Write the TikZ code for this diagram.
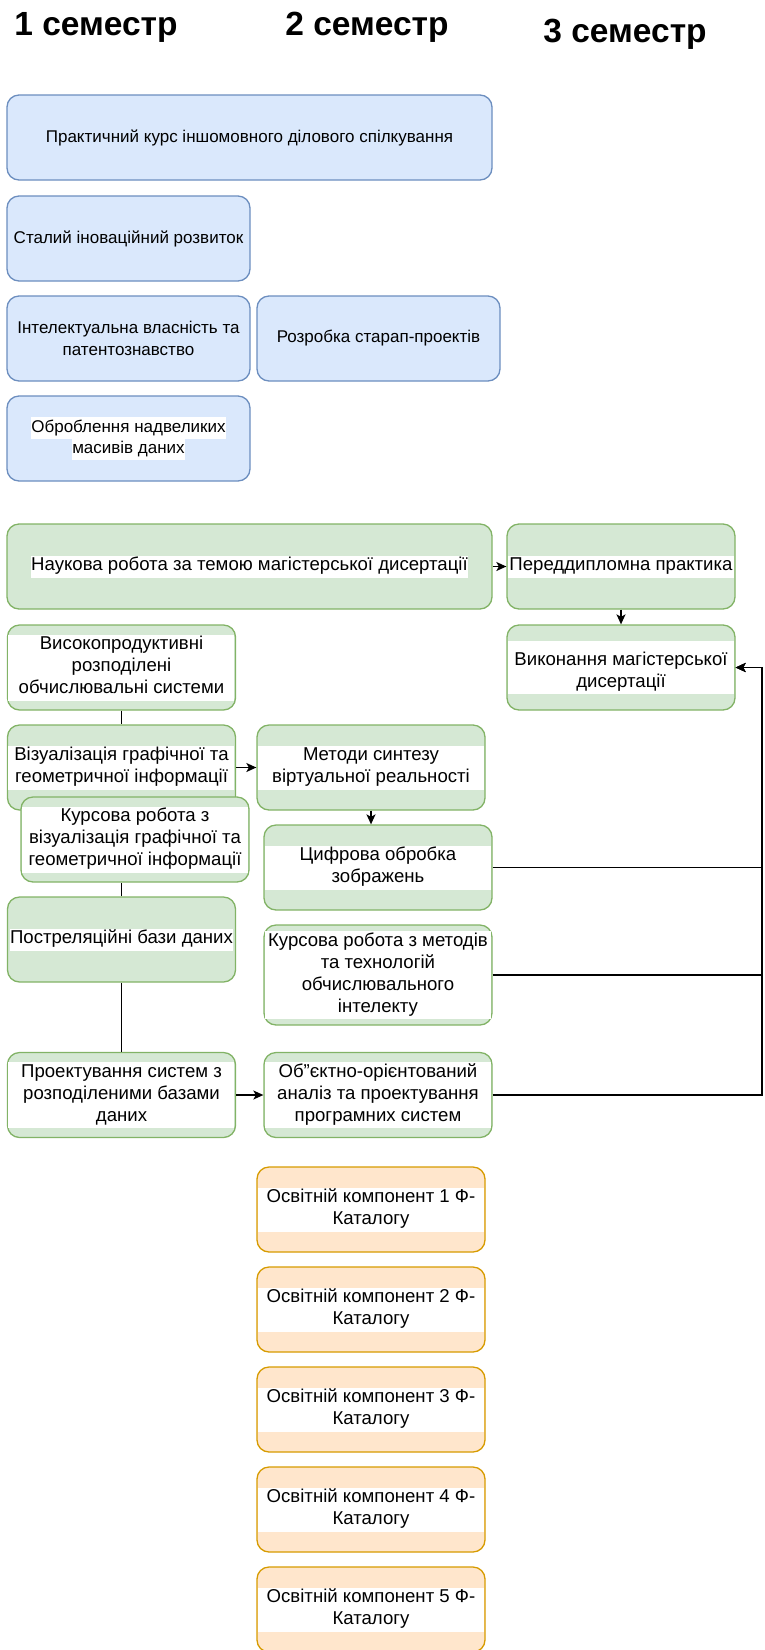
\documentclass[tikz,border=0pt]{standalone}
\usepackage{fontspec}
\setmainfont{Liberation Sans}
\usetikzlibrary{arrows.meta}

\definecolor{genfill}{HTML}{DAE8FC}
\definecolor{genline}{HTML}{6C8EBF}
\definecolor{specfill}{HTML}{D5E8D4}
\definecolor{specline}{HTML}{82B366}
\definecolor{electfill}{HTML}{FFE6CC}
\definecolor{electline}{HTML}{D79B00}

% white label backgrounds
\newcommand{\band}[2]{{\setlength{\fboxsep}{0pt}\colorbox{white}{\parbox{#1}{\centering\strut#2\strut}}}}
\newcommand{\tightbg}[1]{{\setlength{\fboxsep}{0pt}\colorbox{white}{\strut#1}}}

\tikzset{
    course/.style={draw, rounded corners=12pt, line width=1.3pt, inner sep=0pt,
        align=center, font=\fontsize{17}{21.6}\selectfont},
    gen/.style={course, fill=genfill, draw=genline},
    spec/.style={course, fill=specfill, draw=specline, font=\fontsize{18.6}{22}\selectfont},
    elect/.style={course, fill=electfill, draw=electline, font=\fontsize{18.6}{22}\selectfont},
    wide/.style={minimum width=485pt, minimum height=85pt},
    half/.style={minimum width=243pt, minimum height=85pt},
    narrow/.style={minimum width=228pt, minimum height=85pt},
    semtitle/.style={anchor=base, font=\fontsize{33.5}{40}\selectfont\bfseries},
    link/.style={line width=1.4pt},
    arr/.style={link, -{Stealth[length=10pt, width=9pt, inset=2.5pt]}},
}

\begin{document}
\begin{tikzpicture}[x=1pt, y=-1pt]
    \useasboundingbox (0,0) rectangle (764,1650);

    % semesters
    \node[semtitle] (sem1) at (96,35) {1 семестр};
    \node[semtitle] (sem2) at (367,35) {2 семестр};
    \node[semtitle] (sem3) at (625,42) {3 семестр};

    % general courses
    \node[gen, wide] (lang) at (249.5,137.5) {Практичний курс іншомовного ділового спілкування};
    \node[gen, half] (sustain) at (128.5,238.5) {Сталий іноваційний розвиток};
    \node[gen, half] (patent) at (128.5,338.5) {Інтелектуальна власність та\\патентознавство};
    \node[gen, half] (startup) at (378.5,338.5) {Розробка старап-проектів};
    \node[gen, half] (bigdata) at (128.5,438.5) {\tightbg{Оброблення надвеликих}\\\tightbg{масивів даних}};

    % research and thesis
    \node[spec, wide] (research) at (249.5,566.5) {\tightbg{Наукова робота за темою магістерської дисертації}};
    \node[spec, narrow] (prediploma) at (621,566.5) {\band{226pt}{Переддипломна практика}};
    \node[spec, narrow] (thesis) at (621,667.5) {\band{226pt}{\rule{0pt}{24pt}Виконання магістерської\\дисертації}};

    % professional courses
    \node[spec, narrow] (hpc) at (121.5,667.5) {\band{226pt}{Високопродуктивні\\розподілені\\обчислювальні системи}};
    \node[spec, narrow] (visual) at (121.5,767.5) {\band{226pt}{Візуалізація графічної та\\геометричної інформації}};
    \node[spec, narrow] (vr) at (371,767.5) {\band{226pt}{Методи синтезу\\віртуальної реальності}};
    \node[spec, narrow] (visualcw) at (135,839.5) {\band{226pt}{Курсова робота з\\візуалізація графічної та\\геометричної інформації}};
    \node[spec, narrow] (imgproc) at (378,867.5) {\band{226pt}{Цифрова обробка\\зображень}};
    \node[spec, narrow] (postrel) at (121.5,939.5) {\tightbg{Постреляційні бази даних}};
    \node[spec, minimum width=228pt, minimum height=100pt] (cicw) at (378,975) {\band{226pt}{Курсова робота з методів\\та технологій\\обчислювального\\інтелекту}};
    \node[spec, narrow] (distdb) at (121.5,1095) {\band{226pt}{Проектування систем з\\розподіленими базами\\даних}};
    \node[spec, narrow] (ooad) at (378,1095) {\band{226pt}{Об"єктно-орієнтований\\аналіз та проектування\\програмних систем}};

    % elective courses
    \foreach \i in {1,...,5} {
        \node[elect, narrow] (elect\i) at (371,1109.5+100*\i) {\band{226pt}{Освітній компонент \i\ Ф-\\Каталогу}};
    }

    % connections
    \coordinate (rail) at (762,667.5);
    \draw[arr] (research) -- (prediploma);
    \draw[arr] (prediploma) -- (thesis);
    \draw[link] (hpc) -- (visual);
    \draw[arr] (visual) -- (vr);
    \draw[arr] (vr.south) -- (vr.south |- imgproc.north);
    \draw[link] (postrel.north) -- (postrel.north |- visualcw.south);
    \draw[link] (postrel) -- (distdb);
    \draw[arr] (distdb) -- (ooad);
    \draw[arr] (imgproc.east) -| (rail) -- (thesis.east);
    \draw[arr] (cicw.east) -| (rail) -- (thesis.east);
    \draw[arr] (ooad.east) -| (rail) -- (thesis.east);
\end{tikzpicture}
\end{document}
